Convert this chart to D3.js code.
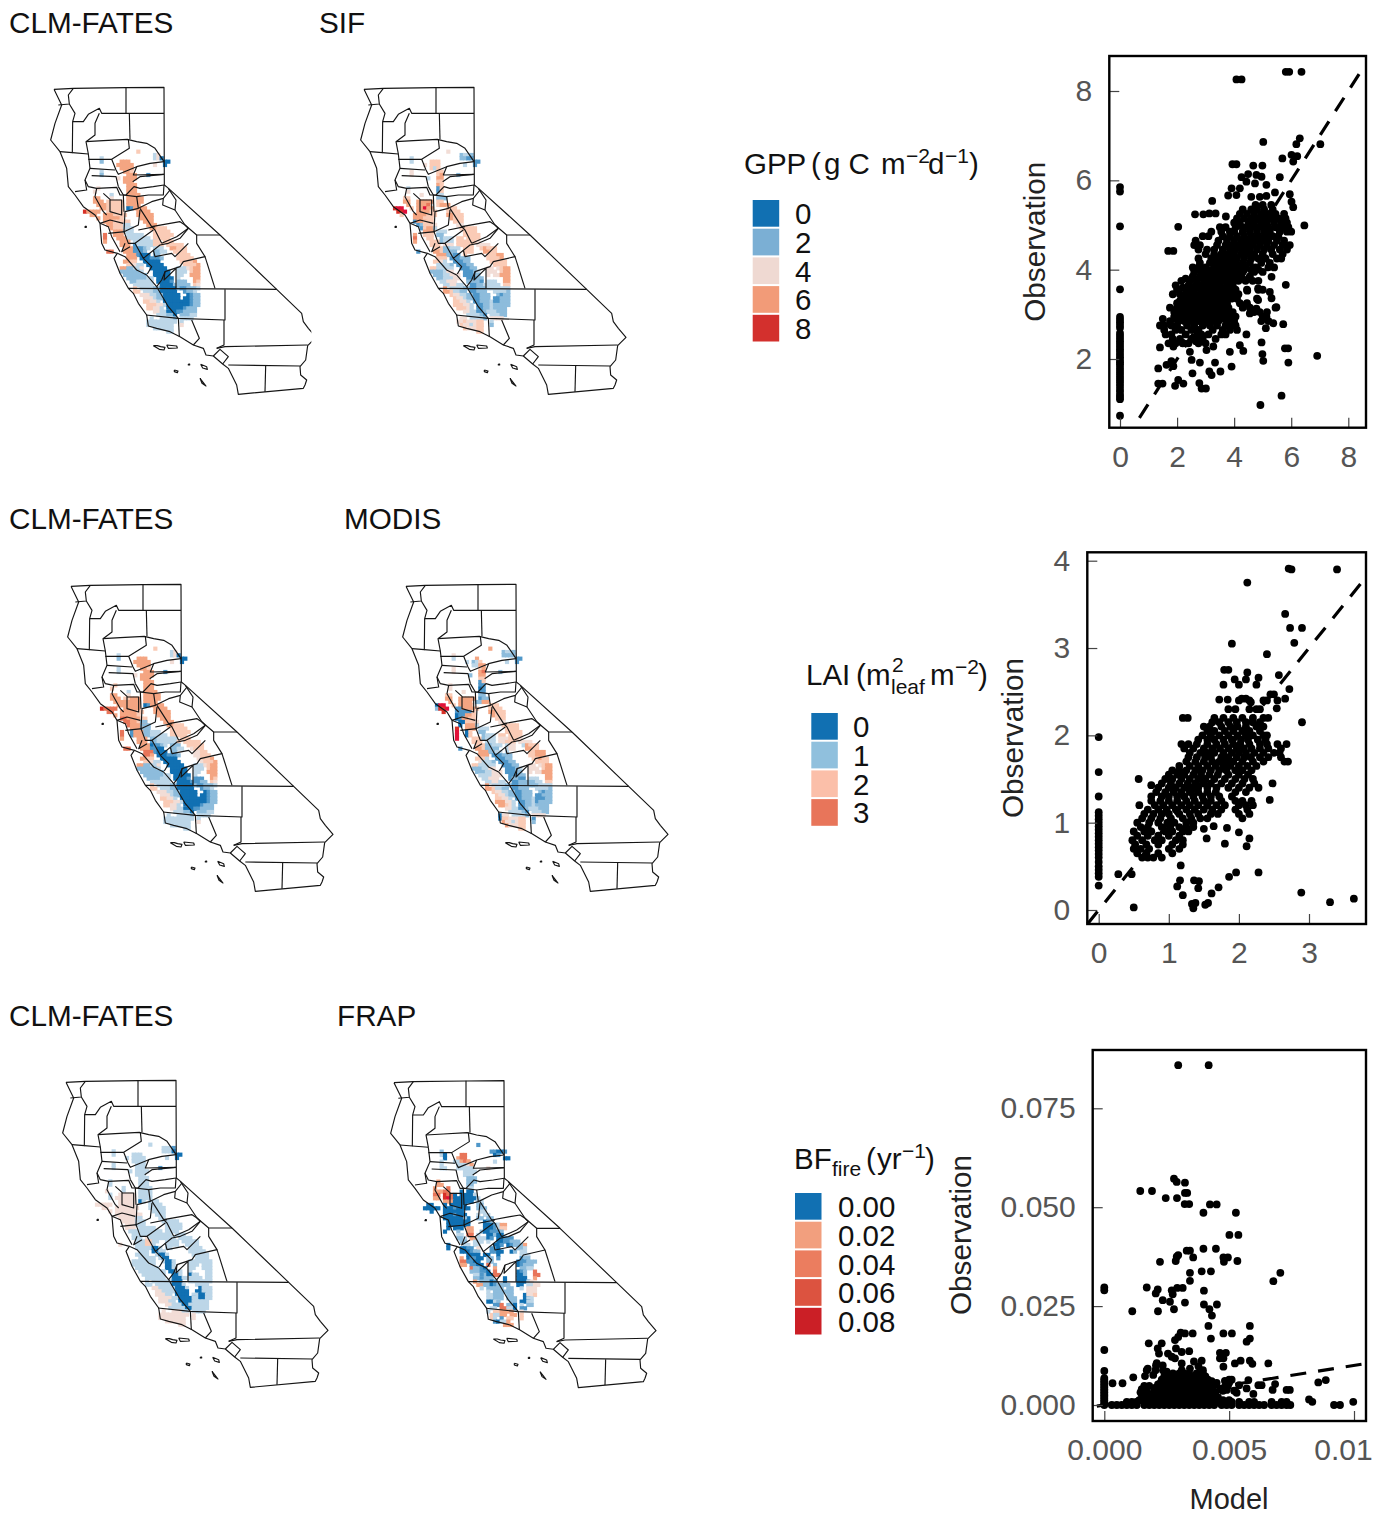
<!DOCTYPE html>
<head>
  <meta charset="utf-8">
  <script src="https://d3js.org/d3.v7.min.js"></script>
  <style>
    body { margin: 0; background: #fff; }
    * { font-family: "Liberation Sans", Arial, sans-serif; }
  </style>
</head>
<body>
  <div id="chart"></div>
  <script>
    // ---- legends
    var gppLabels = ["0", "2", "4", "6", "8"];
    var gppColors = ["#1170b2", "#7bafd4", "#efd9d2", "#f29b78", "#d3302d"];
    var laiLabels = ["0", "1", "2", "3"];
    var laiColors = ["#1170b2", "#90c0dd", "#fbbfa9", "#e8755a"];
    var bfLabels = ["0.00", "0.02", "0.04", "0.06", "0.08"];
    var bfColors = ["#1170b2", "#f29f7e", "#eb7d5f", "#dc5340", "#cb1f26"];

    // ---- map outlines, in map units (870 wide, 960 tall)
    var stateOutline = [[42,28],[100,25],[258,23],[372,22],[373,315],[382,322],[540,465],[710,628],[785,700],[790,725],[805,745],[828,772],[812,788],[803,797],[797,840],[780,860],[782,885],[800,900],[795,915],[790,925],[595,943],[590,915],[565,865],[548,852],[520,828],[498,825],[490,805],[460,795],[420,770],[390,755],[350,745],[325,738],[320,705],[295,670],[280,640],[265,625],[240,580],[222,535],[232,520],[195,510],[185,490],[180,430],[165,405],[130,380],[105,345],[85,320],[80,265],[60,215],[32,180],[45,130],[65,75],[42,28]];
    var countyLines = [
      [[100,25],[85,45],[88,72],[55,75]],
      [[88,72],[105,100],[98,125],[130,125],[145,103],[178,85],[185,100],[372,100]],
      [[258,22],[258,100]],
      [[268,100],[270,178]],
      [[98,125],[97,218],[60,215]],
      [[178,100],[165,130],[165,165],[138,185],[145,222]],
      [[138,185],[190,182],[262,178],[290,185],[320,190],[345,205],[362,230],[372,245]],
      [[97,218],[145,222]],
      [[265,178],[268,205],[215,238],[145,238]],
      [[145,222],[150,265],[135,300],[140,330],[105,335]],
      [[215,238],[228,270],[235,283],[290,260],[330,250],[372,245]],
      [[290,260],[280,285],[372,283]],
      [[278,305],[300,290],[372,283]],
      [[150,265],[225,270]],
      [[155,287],[228,290],[235,320]],
      [[135,300],[145,320],[170,325],[230,322],[240,345],[258,345],[282,320],[300,325],[340,320],[372,315]],
      [[170,325],[165,350],[190,395],[200,405]],
      [[190,340],[210,358],[210,395],[245,405],[245,360],[210,360]],
      [[235,320],[250,345],[252,395]],
      [[250,345],[290,350],[295,385],[255,395],[252,455],[295,435],[300,390]],
      [[290,350],[325,345],[370,345],[372,315]],
      [[295,385],[335,365],[370,355],[390,330]],
      [[370,355],[368,375],[405,390],[408,360],[385,325]],
      [[300,385],[335,440],[345,450],[365,490]],
      [[335,440],[390,430],[420,425],[435,435]],
      [[405,390],[435,435],[470,465],[540,465]],
      [[470,465],[470,490],[495,530],[430,545],[420,560],[375,575],[365,600],[350,620]],
      [[495,530],[525,625]],
      [[365,490],[410,470],[445,445],[435,435]],
      [[295,450],[345,440]],
      [[252,455],[265,490],[285,490],[340,450]],
      [[285,490],[310,535],[360,495],[385,490],[420,475],[445,445]],
      [[340,510],[345,530],[395,520],[405,530],[445,490]],
      [[232,520],[255,530],[290,570],[320,585],[350,620],[385,680],[415,715]],
      [[255,490],[245,515],[270,500]],
      [[180,430],[205,440],[215,470],[240,515]],
      [[205,460],[255,455]],
      [[180,430],[210,420],[250,430]],
      [[310,535],[335,560],[322,582]],
      [[375,575],[372,600],[408,565],[408,625]],
      [[265,625],[710,628]],
      [[555,628],[555,720],[415,715],[318,705]],
      [[552,720],[552,795],[530,805]],
      [[455,720],[478,775],[460,795]],
      [[415,715],[418,770]],
      [[530,805],[555,800],[803,795]],
      [[520,828],[540,808],[565,830],[548,852]],
      [[565,855],[780,858]],
      [[677,858],[675,935]]
    ];
    var islands = [
      [[340,797],[352,797],[362,800],[375,802],[372,810],[358,808],[340,797]],
      [[380,795],[410,798],[412,804],[385,805],[380,795]],
      [[403,870],[414,873],[412,878],[403,875],[403,870]],
      [[482,853],[500,860],[502,868],[488,864],[482,853]],
      [[480,895],[490,908],[498,918],[486,910],[480,895]],
      [[445,852],[449,852],[449,855],[445,855],[445,852]],
      [[135,439],[139,439],[139,442],[135,442],[135,439]]
    ];

    // ---- map cells: "y x:classes x:classes" on a 10 unit grid
    var cellClasses = ["0","1","2","3","4","5","6","7","8","9"];
    var cellColors = ["#1170b2","#4f97c9","#8dbcdc","#bcd6e8","#f2ddd6","#facbb6","#f4a582","#e8755a","#d73027","#e0103a"];

    var gppClmCells = [
      "215 295:5","225 345:34","235 185:3 345:340","245 185:2 245:666 375:00","255 235:66666 345:4 375:0",
      "265 245:6666","275 185:3 255:665","285 185:2 265:666 325:1","295 235:4 255:6666","305 255:666","315 265:666",
      "325 175:4 265:666","335 165:4 265:666","345 215:3 265:6666","355 165:66 215:4 265:66666","365 165:666 205:55555 265:66666",
      "375 175:66 195:655555 265:6666 295:6","385 185:66 205:55555 265:016 295:666","395 135:8 145:6666 205:55555 295:6666",
      "405 155:66 195:6665555 295:66666","415 175:6 195:666665 305:6666","425 195:66655555 315:666","435 205:6655555 255:33 325:666",
      "445 215:655555 255:333 335:66 355:555","455 225:6666 255:333 345:55555","465 195:7 225:666 265:33333 345:555555",
      "475 195:7 235:666 265:3333333 345:55555","485 195:6 245:666 285:3333333 345:55 375:555",
      "495 245:666 285:13333 325:333 345:555 385:55555","505 255:666 285:11123 345:333 395:66555",
      "515 205:77 255:666 285:1112 345:2233 405:5555","525 265:6666 295:1000 345:22 415:5555",
      "535 265:666 305:0001 345:112 415:55555","545 255:6655 315:00000 425:55556","555 265:55433 325:00000 435:55556",
      "565 245:66 265:22334 335:00000 415:333 445:4566","575 245:2222223 345:00000 415:333 455:566","585 255:2222222 345:00000 415:33 455:666",
      "595 265:22222233 355:00000 415:3 465:66","605 275:2233333 355:00001 415:222 465:65","615 285:333333 365:00000 405:22222 465:54",
      "625 285:5 305:333322 365:00000 415:2112223","635 285:55 315:33322 365:00000 435:1223","645 305:4 315:443322 375:00000 445:0122",
      "655 315:444322 375:00000 435:00122","665 315:55443 375:00000 425:000122","675 325:555443 385:00000 425:000122",
      "685 325:55443 385:0000 425:01222","695 345:44332 385:0000 415:112222","705 355:333222 405:0 425:22233","715 335:3 365:33332 425:3333",
      "725 325:333 345:3333333 425:3","735 325:3 335:3333 375:333 425:4","745 345:3333 375:333","755 385:33"
    ];
    var sifCells = [
      "215 295:4","225 335:2332","235 185:3 335:2211","245 185:3 245:555 375:11","255 225:4 245:555 345:3 375:1",
      "265 245:535","275 185:4 265:55","285 185:4 265:56 325:2","295 235:3 265:66","305 265:55","315 265:65",
      "325 175:3 265:15","335 175:4 265:15","345 215:4 265:33","355 165:55 265:222","365 165:66 205:66666 265:55",
      "375 175:6 205:6666 225:67 265:5666","385 135:8 145:99 185:5 205:66 225:966 295:555","395 145:889 205:666655 295:5555",
      "405 155:5 195:6666555 295:66555","415 195:666555 305:6555","425 195:1666 225:555 315:555","435 205:12 225:5555 255:4 325:44",
      "445 215:15 235:666 255:3 335:55 355:555","455 225:666 265:333 345:5555 375:5","465 195:6 225:555 265:22 345:5555 375:55",
      "475 195:7 235:55 275:2333 325:55 355:5555","485 195:6 245:555 275:2 285:333 325:555 355:555 385:4","495 245:555 285:444 325:55 345:555 385:4444",
      "505 255:555 285:22333 345:555 395:56555","515 205:1 255:665 285:2222 345:555 405:6655","525 265:6666 295:2211 345:5 415:55566",
      "535 265:555 305:1112 345:22 415:55556","545 255:5543 315:11122 425:55555","555 265:33332 325:11122 435:5555",
      "565 245:55 265:33333 335:11122 415:44 445:4566","575 245:2222344 345:11123 415:444 455:566","585 255:22233444 345:11122 415:4 435:44 455:666",
      "595 265:2233344 355:11122 465:66","605 275:33444 305:44 355:22221 415:333 465:66","615 285:334433 365:11222 405:33333 465:55",
      "625 285:6 305:333322 365:11222 415:3333333","635 285:66 305:5333 325:322 365:11222 435:33332","645 305:5 315:443322 375:11222 445:2122",
      "655 315:544322 375:11222 435:11222","665 315:55443 375:11222 425:311222","675 315:555443 385:11222 425:322222",
      "685 325:55543 385:1122 425:32222","695 345:44332 385:1122 415:333222","705 355:333322 405:1 425:33322","715 335:44 365:33332 425:4444",
      "725 325:444 345:544455 425:3","735 335:5443 365:3444 385:55 425:2","745 345:5445 375:455","755 385:55"
    ];
    var laiClmCells = [
      "215 295:5","225 345:34","235 185:3 345:340","245 185:2 245:666 375:00","255 235:66666 345:4 375:0",
      "265 245:6666","275 185:3 255:665","285 185:3 265:666 325:1","295 235:4 255:6666","305 255:666","315 265:666",
      "325 175:5 265:666","335 165:5 265:666","345 215:3 265:6666","355 165:66 215:4 265:66666","365 165:666 205:55666 265:66666",
      "375 175:66 195:666666 265:6666 295:6","385 185:66 205:66666 265:016 295:666","395 135:8 145:7777 205:66666 295:6666",
      "405 155:77 195:6666655 295:66666","415 175:6 195:666665 305:6666","425 195:77666655 315:666","435 205:7766555 255:22 325:666",
      "445 215:766666 255:222 335:66 355:555","455 225:6666 255:222 345:55555","465 195:7 225:1666 265:22333 345:555555",
      "475 195:7 225:1666 265:2233333 345:55555","485 195:6 245:666 285:2233333 345:33 375:555",
      "495 245:666 285:12333 325:333 345:335 385:55555","505 255:666 285:01123 345:222 395:55555",
      "515 205:77 255:666 285:1100 345:2233 405:4555","525 265:7776 295:1000 345:22 415:4455",
      "535 265:776 305:0001 345:112 415:44555","545 255:6655 315:00000 425:45556","555 265:55433 325:00000 435:45556",
      "565 245:66 265:22334 335:00000 415:333 445:4566","575 245:2222223 345:00000 415:333 455:566","585 255:2222222 345:00000 415:33 455:666",
      "595 265:22222233 355:00000 415:3 465:66","605 275:2222333 355:00001 415:111 465:65","615 285:333333 365:00000 405:11122 465:54",
      "625 285:5 305:333322 365:00000 415:2112223","635 285:55 315:33322 365:00000 435:1223","645 305:4 315:443322 375:00000 445:0122",
      "655 315:444322 375:00000 435:00122","665 315:55443 375:00000 425:000122","675 325:555443 385:00000 425:000122",
      "685 325:55443 385:0000 425:01222","695 345:44332 385:0000 415:112222","705 355:333222 405:0 425:22233","715 335:3 365:33332 425:3333",
      "725 325:333 345:3333333 425:3","735 325:3 335:3333 375:333 425:4","745 345:3333 375:333","755 385:33"
    ];
    var modisCells = [
      "215 295:6","225 335:2332","235 185:4 335:2222","245 185:3 255:6 375:11","255 225:3 245:235 345:3 375:1",
      "265 245:33 265:66","275 185:4 265:56","285 185:4 265:67 325:2","295 235:2 265:66","305 265:55","315 265:15",
      "325 175:4 265:11","335 175:4 265:01","345 215:4 265:11","355 165:55 265:22","365 165:66 205:66666 265:122",
      "375 175:6 205:6666 255:2266","385 135:0 145:99 185:5 205:6666 225:66 295:555","395 135:2 145:889 195:1166665 295:5555",
      "405 155:8 195:11111 245:5 295:66555","415 195:01 215:1665 305:6555","425 195:0166 225:655 315:555","435 205:00 225:5555 255:4 325:44",
      "445 205:0 225:6666 255:3 335:55 355:555","455 195:8 225:666 265:333 345:5555 375:5","465 195:9 225:05 265:22 345:5555 375:55",
      "475 195:9 225:05 275:2333 325:55 355:5555","485 195:9 245:555 275:2 285:333 325:444 355:555 385:4","495 245:555 285:333 325:44 345:555 385:4444",
      "505 255:555 285:22333 345:344 395:36555","515 205:1 255:665 285:2222 345:344 405:6655","525 265:6666 295:2233 345:3 415:55666",
      "535 265:666 305:1112 345:22 415:55666","545 255:5553 315:11122 425:55655","555 265:43332 325:11122 435:5555",
      "565 245:55 265:33333 335:11122 415:44 445:4566","575 245:2223344 345:11123 415:444 455:566","585 255:22233444 345:11122 415:4 435:44 455:666",
      "595 265:3333444 355:11122 465:66","605 275:33444 305:44 355:12211 415:333 465:66","615 285:334433 365:11222 405:22233 465:55",
      "625 285:6 305:333322 365:11222 415:2223333","635 285:66 305:5333 325:322 365:11222 435:33332","645 305:5 315:443322 375:11222 445:2122",
      "655 315:544322 375:11222 435:11222","665 315:55443 375:11222 425:311122","675 315:666443 385:11222 425:312222",
      "685 325:66543 385:1122 425:32222","695 345:44332 385:1122 415:333222","705 355:333322 405:1 425:33322","715 325:0 335:44 365:33332 425:4444",
      "725 325:0 335:5 345:544455 425:1","735 335:6443 365:3444 385:55 425:2","745 345:6445 375:455","755 385:55"
    ];
    var bfClmCells = [
      "215 295:3","225 335:3331","235 185:3 335:3330","245 185:3 245:333 375:00","255 225:3 245:3333 345:3 375:0",
      "265 245:3333","275 185:3 255:333","285 185:3 255:333 325:1","295 235:3 255:3333","305 255:333","315 265:333",
      "325 175:3 265:333","335 175:3 265:333","345 215:3 265:3333","355 165:4 215:3 265:3333","365 175:3 205:44444 265:3333",
      "375 175:3 195:444444 265:333 295:3","385 205:44444 265:03 295:333","395 135:4 145:4444 205:44444 295:3333",
      "405 155:44 195:4444444 295:33333","415 175:4 195:444444 305:3333","425 195:44444444 315:333","435 205:4444444 255:33 325:33",
      "445 215:444444 255:333 335:33 355:333","455 225:4444 255:333 345:33333","465 225:444 265:33333 345:33333",
      "475 235:333 265:3333333 345:3333","485 245:333 275:3333333 345:33 375:333","495 245:333 285:43333 325:333 345:333 385:3333",
      "505 255:333 285:5533 345:333 365:33 395:33333","515 205:4 255:333 285:553 345:3333 405:3333","525 255:33333 295:3003 345:33 415:3333",
      "535 265:333 305:0033 415:33333","545 255:3333 315:3003 425:33333","555 265:33333 325:300 435:3333",
      "565 245:33 265:33333 335:3003 415:333 445:3333","575 245:3333333 345:003 415:333 455:333","585 255:3333333 345:003 415:33 455:333",
      "595 265:33333333 355:0033 415:3 465:33","605 275:3333333 365:003 415:033 465:33","615 285:333333 365:0003 405:33333 465:33",
      "625 285:3 305:333333 365:000 415:3333333","635 285:33 315:33333 365:0003 435:3333","645 305:4 315:433333 375:0003 445:0333",
      "655 315:443333 375:0000 435:00333","665 315:44433 375:0000 425:330033","675 325:444433 385:00000 425:330033",
      "685 325:44433 385:0000 425:33333","695 345:44333 395:000 415:333333","705 355:333333 405:00 425:33333","715 335:4 365:44433 425:3333",
      "725 325:444 345:4444444 425:4","735 325:4 335:4444 375:444 425:4","745 345:4444 375:444","755 385:44"
    ];
    var frapCells = [
      "215 295:1","235 185:2 335:11001","245 185:3 195:0 245:77 345:01","255 195:0 235:677 375:00","265 185:3 225:33 245:677 265:6 345:3",
      "275 185:3 235:333 265:46","285 185:3 195:3 235:33 255:333 325:4","295 255:3333","305 255:333","315 265:222","325 175:6 265:222",
      "335 175:66 265:22","345 165:6 205:7 265:33","355 165:666 195:77 245:0 265:00","365 165:77 195:877 225:0 245:00 265:000 285:3",
      "375 165:66 195:897 225:000 255:00 265:000 295:3","385 195:66 215:6 225:0000 265:00 295:33","395 145:00 195:0 215:00000 295:22",
      "405 135:0 145:0000 195:00010000 295:222","415 155:0 195:0 205:00000 245:0 305:33","425 195:0001000 245:0 295:3 315:33",
      "435 195:00000000 255:2 295:22 325:22","445 205:0000000 315:011 335:2","455 205:0000000 315:00010 355:3 365:66",
      "465 205:0 225:0 235:00 265:66 315:0001 355:3 365:55","475 195:0 235:2 265:66 305:2 315:0011 355:1 365:2","485 235:33 265:77 295:3 325:0022 355:00",
      "495 235:223 275:66 295:3330 335:1 355:00 375:111","505 245:22 285:333 325:3 355:0011 395:222","515 205:0 255:33 285:33 345:001 385:01 405:2226",
      "525 205:0 245:0011 295:4 335:11 355:0 415:223","535 245:00011 285:22 335:11 355:00 395:02 425:33","545 265:001 285:00 315:00 355:0 425:333",
      "555 245:6 265:0110 295:00 325:22 355:1 425:1 435:22","565 245:77 265:1100 295:0 325:22 415:00 425:11 445:222","575 245:66 275:110 295:00 325:7 345:2 415:01 435:222",
      "585 275:72 285:22 305:1 315:0 345:6 425:22 445:33","595 275:222 305:11 325:0 345:7 415:01 435:2 465:7","605 285:3332 305:1 325:00 345:77 415:00 435:2 465:77",
      "615 285:2222 305:1 325:22 375:0 415:000 435:0 465:6","625 285:6 305:222 335:01 375:0 415:0000 445:34","635 295:66 315:222 335:01 355:22 375:22 415:00 445:3344",
      "645 305:3 325:22 345:22 365:2 385:22 425:3 445:444","655 325:3 345:222 365:22 385:22 445:44 465:4","665 325:33 345:222 385:22 435:0 445:44 465:5",
      "675 325:33 345:2 355:22 385:222 435:00 445:33","685 325:00 345:33 355:2 395:22 425:0 435:00 445:33","695 345:11 365:7 385:22 405:0 425:3 445:22",
      "705 335:33 365:777 385:33 405:0 425:11","715 325:3 345:55 365:66 385:66 425:4","725 335:5 345:33 365:66 395:66 425:5",
      "735 335:55 345:3 365:1 385:55 425:5","745 345:1 355:0 365:33 385:6","755 375:66 395:6"
    ];

    // ---- scatter values
    var gppTicks = [0, 2, 4, 6, 8];
    var gppYTicks = [2, 4, 6, 8];
    var gppLine = [0.68, 8.4];
    var gppZero = [0.73,1.1,1.15,1.2,1.27,1.33,1.4,1.46,1.52,1.58,1.64,1.7,1.76,1.82,1.88,1.93,1.98,2.04,2.1,2.16,2.22,2.28,2.34,2.4,2.46,2.52,2.58,2.7,2.76,2.82,2.88,2.94,3.56,4.97,5.75,5.85];
    var gppPoints = [[4.08,8.26],[4.26,8.26],[5.81,8.43],[5.93,8.43],[6.36,8.43],[5.02,6.86],[7.02,6.81],[6.3,6.94],[6.18,6.81],[5.69,6.49],[6.01,6.57],[6.21,6.54],[6.07,6.42],[3.94,6.36],[4.08,6.36],[4.67,6.33],[4.99,6.33],[5.6,6.07],[4.26,6.07],[4.49,6.14],[4.78,6.12],[4.96,6.08],[4.43,5.97],[4.73,5.93],[5.13,5.9],[3.91,5.82],[4.2,5.82],[3.79,5.66],[4.08,5.67],[4.6,5.63],[4.9,5.63],[5.13,5.65],[5.43,5.73],[5.95,5.69],[6.01,5.52],[6.07,5.4],[3.23,5.54],[2.63,5.24],[2.92,5.24],[3.13,5.26],[3.35,5.26],[3.71,5.19],[2.04,4.96],[6.46,4.99],[1.69,4.42],[1.87,4.42],[5.81,3.66],[5.31,3.84],[5.31,3.36],[5.25,3.5],[4.84,3.58],[4.46,3.53],[4.84,3.32],[4.78,3.13],[4.55,3.02],[4.3,3.2],[4.43,2.55],[5.11,2.69],[5.72,2.78],[5.37,2.8],[5.13,2.95],[5.48,3.16],[1.34,1.79],[1.63,1.87],[1.8,1.95],[1.87,1.84],[1.34,1.45],[1.49,1.45],[1.93,1.4],[2.04,1.53],[2.22,1.45],[2.54,1.68],[2.78,1.46],[2.86,1.34],[3.01,1.34],[3.13,1.72],[3.21,1.64],[3.52,1.72],[3.33,1.92],[3.91,1.83],[2.51,1.98],[2.8,1.92],[2.45,2.16],[3.03,2.2],[3.27,2.28],[3.85,2.16],[4.2,2.31],[4.32,2.18],[4.96,2.37],[4.99,2.11],[5.02,1.96],[5.78,2.24],[5.89,2.24],[5.9,1.92],[6.91,2.07],[4.92,0.97],[5.66,1.18],[1.4,2.26],[1.87,2.28],[2.2,2.36],[2.66,2.4]];
    var gppRows = [
      [2.35,[1.7,1.95,2.2,2.4,2.75,3.0]],[2.45,[1.85,2.1,2.5,2.65,2.9,3.35]],[2.55,[1.6,1.8,2.3,2.7,2.85,3.1,3.55,3.7]],
      [2.65,[1.55,1.95,2.15,2.5,2.75,3.25,3.6,3.85,4.1]],[2.75,[1.4,1.55,1.8,2.0,2.35,2.6,2.9,3.15,3.4,3.7,3.95,4.05]],
      [2.85,[1.75,2.05,2.25,2.5,2.75,3.0,3.25,3.45,3.75,4.0,4.95,5.2]],[2.95,[1.9,2.2,2.4,2.65,2.9,3.1,3.35,3.6,3.85,4.05,5.0]],
      [3.05,[1.9,2.1,2.3,2.55,2.8,3.0,3.2,3.5,3.7,3.95,4.7,4.9,5.15]],[3.15,[1.75,2.0,2.2,2.45,2.65,2.9,3.15,3.4,3.6,3.8,4.3,4.55,5.45]],
      [3.25,[2.0,2.3,2.5,2.75,3.0,3.25,3.5,3.75,4.2,4.45]],[3.35,[2.2,2.4,2.65,2.85,3.1,3.3,3.6,3.9,4.1,4.8]],
      [3.45,[1.85,2.1,2.3,2.55,2.8,3.0,3.25,3.45,3.7,3.95,4.15]],[3.55,[2.0,2.35,2.6,2.9,3.1,3.35,3.55,3.8,4.05,4.45,4.85,5.0]],
      [3.65,[1.95,2.4,2.65,2.85,3.05,3.3,3.5,3.75,3.95]],[3.75,[2.15,2.45,2.7,3.0,3.2,3.45,3.65,3.9,4.15,4.4,4.65,4.85]],
      [3.85,[2.55,2.8,3.05,3.3,3.5,3.75,4.0,4.25,4.55]],[3.95,[2.6,2.9,3.15,3.4,3.6,3.85,4.1,4.3,4.7,5.0]],
      [4.05,[2.55,2.75,3.0,3.3,3.5,3.7,3.95,4.2,4.4,4.75,5.2,5.4]],[4.15,[2.8,3.15,3.35,3.6,3.8,4.05,4.3,4.55,4.95,5.25]],
      [4.25,[2.75,3.2,3.45,3.7,3.9,4.1,4.35,4.6,4.85,5.1,5.5,5.65]],[4.35,[3.0,3.3,3.55,3.8,4.0,4.25,4.5,4.7,5.0,5.35,5.7]],
      [4.45,[2.75,3.05,3.3,3.6,3.85,4.05,4.3,4.55,4.8,5.05,5.3,5.6,5.85]],[4.55,[2.6,2.8,3.4,3.7,3.95,4.15,4.4,4.65,4.9,5.15,5.4,5.7,5.95]],
      [4.65,[2.65,3.45,3.75,4.0,4.25,4.5,4.75,5.0,5.2,5.5,5.75]],[4.75,[2.9,3.1,3.6,3.85,4.1,4.35,4.6,4.85,5.1,5.35,5.55]],
      [4.85,[3.2,3.55,3.85,4.0,4.3,4.55,4.8,5.05,5.25,5.6,5.85,6.0]],[4.95,[3.5,3.7,4.05,4.3,4.5,4.75,5.0,5.2,5.45,5.7,5.9]],
      [5.05,[4.0,4.2,4.5,4.7,4.95,5.15,5.4,5.65,5.85]],[5.15,[4.1,4.35,4.6,4.85,5.05,5.3,5.55,5.8]],
      [5.25,[4.2,4.45,4.7,4.95,5.2,5.45,5.75]],[5.35,[4.3,4.6,4.8,5.05,5.35]],[5.45,[4.75,5.0,5.3]],
      [2.9,[1.5,1.95,2.3,2.55,2.8,3.05,3.3,3.55,3.8]],[3.0,[2.0,2.25,2.5,2.75,2.95,3.15,3.4,3.65,3.9]],[3.1,[1.95,2.15,2.4,2.6,2.85,3.05,3.3,3.55,3.75]],
      [3.2,[2.1,2.35,2.6,2.8,3.05,3.3,3.55]],[3.3,[2.1,2.55,2.95,3.15,3.4,3.7]],[3.4,[2.2,2.5,2.75,2.95,3.2,3.5,3.8,4.05]],
      [3.6,[2.2,2.5,2.75,3.0,3.2,3.45,3.7]],[3.8,[2.3,2.6,2.9,3.15,3.4,3.6,3.85,4.1,4.5]],[4.0,[2.7,3.05,3.25,3.55,3.8,4.05,4.35,4.6,4.85]]
    ];

    var laiTicks = [0, 1, 2, 3];
    var laiYTicks = [0, 1, 2, 3, 4];
    var laiLine = [-0.16, 3.78];
    var laiZero = [0.28,0.38,0.42,0.46,0.5,0.55,0.6,0.64,0.68,0.72,0.76,0.8,0.84,0.88,0.92,0.96,1.0,1.04,1.08,1.12,1.3,1.58,1.98];
    var laiPoints = [[2.71,3.91],[2.75,3.9],[3.4,3.9],[2.12,3.75],[2.66,3.39],[2.73,3.23],[2.9,3.23],[2.79,3.06],[1.9,3.05],[2.4,2.93],[2.57,2.69],[2.72,2.53],[2.66,2.42],[2.9,2.15],[2.54,2.31],[1.79,2.75],[1.85,2.75],[2.12,2.72],[2.1,2.64],[2.28,2.66],[1.94,2.64],[2.0,2.58],[2.25,2.58],[1.78,2.58],[1.72,2.41],[1.84,2.41],[2.04,2.42],[2.1,2.42],[2.17,2.38],[0.28,0.41],[0.47,0.41],[0.5,0.03],[1.17,0.51],[1.16,0.34],[1.12,0.27],[1.2,0.17],[1.36,0.34],[1.43,0.33],[1.42,0.25],[1.33,0.07],[1.38,0.08],[1.35,0.02],[1.52,0.06],[1.56,0.08],[1.61,0.19],[1.71,0.26],[1.86,0.38],[1.96,0.43],[2.28,0.43],[2.89,0.2],[3.3,0.09],[3.64,0.13],[0.57,1.5],[0.75,1.43],[1.5,0.93],[1.54,0.82],[1.64,0.96],[1.8,0.76],[1.83,0.94],[2.0,0.89],[2.11,0.73],[2.15,0.82],[2.44,1.26],[2.48,1.45]];
    var laiRows = [
      [0.6,[0.62,0.7,0.78,0.9]],[0.7,[0.5,0.6,0.72,1.0,1.15]],[0.8,[0.48,0.62,0.8,0.9,1.1,1.2]],
      [0.9,[0.5,0.65,0.75,0.95,1.05,1.2,1.28]],[1.0,[0.55,0.72,0.85,0.98,1.08,1.25,1.35]],
      [1.1,[0.65,0.78,0.9,1.0,1.15,1.3,1.42,1.6,1.7,2.0,2.15]],[1.2,[0.58,0.8,0.92,1.05,1.18,1.3,1.42,1.55,1.68,1.8,2.0,2.1,2.2]],
      [1.3,[0.75,0.9,1.0,1.12,1.22,1.35,1.48,1.6,1.72,1.9]],[1.4,[0.85,1.0,1.1,1.22,1.32,1.42,1.55,1.68,1.85,2.0,2.15,2.28]],
      [1.5,[0.95,1.05,1.18,1.3,1.42,1.52,1.65,1.8,1.95,2.08,2.2]],[1.6,[1.05,1.15,1.25,1.38,1.48,1.6,1.72,1.82,1.95,2.05,2.18]],
      [1.7,[1.25,1.38,1.5,1.62,1.72,1.82,1.92,2.05,2.2,2.35,2.65,2.7]],[1.8,[1.3,1.45,1.55,1.65,1.78,1.9,2.0,2.1,2.22,2.35,2.5,2.58]],
      [1.9,[1.18,1.28,1.4,1.55,1.68,1.8,1.92,2.02,2.15,2.3,2.4,2.55,2.68]],[2.0,[1.48,1.6,1.72,1.85,1.98,2.1,2.2,2.35,2.4]],
      [2.1,[1.5,1.58,1.75,1.88,1.98,2.1,2.25,2.35]],[2.2,[1.2,1.27,1.65,1.78,1.92,2.05,2.2,2.35,2.42]],
      [2.3,[1.85,1.95,2.15,2.25,2.3]],[2.4,[2.0,2.15,2.35,2.4,2.55]],[2.47,[2.45,2.5]],
      [0.65,[0.55,0.68,0.85,1.05]],[0.75,[0.52,0.68,0.85,1.05,1.2]],[0.85,[0.55,0.7,0.85,1.0,1.15]],[0.95,[0.6,0.7,0.9,1.02,1.15,1.25,1.35]],
      [1.05,[0.62,0.75,0.88,1.03,1.2,1.32,1.45,1.55,2.05]],[1.15,[0.7,0.85,0.97,1.1,1.25,1.37,1.5,1.62,1.75,1.95,2.12]],
      [1.25,[0.75,0.88,1.0,1.12,1.25,1.37,1.5,1.6,1.75,1.95,2.05,2.18]],[1.35,[0.82,0.95,1.07,1.18,1.3,1.42,1.55,1.67,1.95,2.1]],
      [1.45,[0.9,1.03,1.15,1.27,1.38,1.5,1.6,1.75,1.9,2.05,2.22]],[1.55,[1.0,1.12,1.22,1.35,1.46,1.58,1.7,1.85,2.0,2.13]],
      [1.65,[1.15,1.3,1.42,1.55,1.67,1.78,1.88,2.0,2.12,2.25]],[1.75,[1.28,1.4,1.52,1.6,1.75,1.85,1.97,2.08,2.17,2.3,2.42,2.6]],
      [1.85,[1.22,1.35,1.5,1.62,1.73,1.85,1.97,2.07,2.18,2.3,2.42,2.6]],[1.95,[1.42,1.55,1.65,1.78,1.9,2.03,2.13,2.27,2.38]],
      [2.05,[1.55,1.65,1.8,1.92,2.05,2.15,2.3]],[2.15,[1.62,1.72,1.85,1.97,2.1,2.2,2.3]]
    ];

    // burned fraction scatter values are in units of 0.001
    var bfXTicks = [0, 5, 10];
    var bfXLabels = ["0.000", "0.005", "0.01"];
    var bfYTicks = [0, 25, 50, 75];
    var bfYLabels = ["0.000", "0.025", "0.050", "0.075"];
    var bfLine = [-0.3, 10.3];
    var bfZero = [0,0.4,0.8,1.2,1.6,2,2.4,2.8,3.2,3.6,4,4.4,4.8,5.2,5.6,6,6.4,6.8,8.6,13.9,29,29.7];
    var bfPoints = [[2.96,85.9],[4.18,85.9],[2.79,57.2],[2.9,56.4],[3.23,56.2],[1.44,54.1],[1.91,54.1],[3.23,53.6],[3.32,53.6],[2.46,52.3],[2.91,52.3],[3.22,50.8],[3.4,50.8],[4.23,50.7],[4.5,50.7],[3.97,48.6],[5.27,48.6],[5.01,43],[5.37,43],[3.97,39.5],[4.47,39.5],[3.3,39],[3.43,39],[2.96,37.9],[2.9,37.5],[3.56,37.3],[4.77,37.3],[4.95,37.3],[4.79,36.2],[5.33,36.4],[2.23,36.2],[2.86,36.4],[3.43,33.4],[3.9,33.8],[4.27,33.8],[7.05,33.4],[6.77,31.3],[3.43,31.4],[1.7,29.7],[2.14,29.2],[2.06,28.2],[2.7,29],[2.92,29.6],[3.14,29.6],[3.99,28.9],[2.74,28],[2.34,26.5],[2.63,26.1],[3.23,25.9],[3.99,25.4],[4.51,25.4],[4.21,24.2],[2.79,24.2],[2.15,23.7],[1.12,23.7],[4.31,22.6],[4.17,20],[5.83,20],[4.77,18.1],[5.11,18.1],[3.06,18.3],[3.23,18.1],[3.54,18.1],[2.96,17.2],[2.83,16.4],[4.27,16.8],[5.83,16.8],[5.7,16],[1.78,15.6],[2.3,15.6],[2.14,14.3],[2.87,14.3],[3.1,13.4],[3.4,13.6],[2.19,13],[2.55,13],[2.7,12.2],[4.63,13.2],[4.87,13.2],[4.63,11.8],[4.77,11.8],[5.46,11.2],[5.23,10.5],[5.83,11.2],[5.93,10.4],[6.57,10.5],[3.9,11.2],[3.59,11],[2.83,11.8],[3.1,10.5],[3.43,9.2],[3.77,9.8],[2.1,10.6],[2.34,10],[2.07,10],[1.74,9.2],[4.77,9.7],[1.16,7],[1.63,7.3],[1.96,7.6],[2.5,8.4],[0.33,5.5],[0.73,5.5],[5.03,6.3],[4.83,6.1],[6.84,5.3],[6.17,5],[6.3,5],[5.77,6.3],[5.7,4.2],[5.4,5],[8.57,5.7],[8.87,6.3],[6.74,3.8],[7.3,3.8],[7.43,3.8],[5.97,2.8],[5.3,3.1],[4.9,3.8],[8.2,1.4],[8.33,0.8],[9.2,0],[9.44,0],[9.97,0.8]];
    var bfRows = [
      [0,[0.3,0.5,0.7,0.9,1.1,1.3,1.6,1.8,2,2.2,2.4,2.6,2.8,3,3.2,3.4,3.6,3.8,4,4.2,4.4,4.7,4.9,5.1,5.4,5.6,5.8,6,6.2,6.4,6.7,6.9,7.1,7.3,7.45]],
      [0.4,[1.7,2,2.3,2.6,2.9,3.2,3.5,3.8,4.1,4.4]],
      [0.8,[0.9,1.1,1.3,1.6,1.85,2.05,2.3,2.5,2.7,2.95,3.15,3.35,3.55,3.8,4,4.25,4.6,4.9,5.1,5.4,5.8,6,6.7,7.1,7.3]],
      [1.2,[1.4,1.75,2.05,2.3,2.55,2.75,3,3.25,3.45,3.7,3.9,4.15,4.4,4.75,5.0]],
      [1.6,[1.5,1.7,1.95,2.15,2.4,2.6,2.85,3.05,3.3,3.5,3.75,3.95,4.2,4.45]],
      [2,[1.7,2.0,2.25,2.5,2.7,2.95,3.2,3.4,3.65,3.85,4.1,4.35,4.55]],
      [2.4,[1.6,1.9,2.15,2.35,2.6,2.8,3.05,3.3,3.5,3.75,3.95,4.2]],
      [2.8,[1.5,1.8,2.05,2.25,2.5,2.7,2.95,3.15,3.4,3.6,3.85,4.1,4.35]],
      [3.2,[1.45,1.7,2.1,2.3,2.55,2.8,3,3.25,3.45,3.7,3.95,4.15,4.45]],
      [3.6,[1.55,2.0,2.25,2.45,2.65,2.9,3.1,3.35,3.6,3.8,4.05,4.3,4.75,5.2]],
      [4,[1.5,1.65,2.1,2.3,2.5,2.75,3,3.2,3.45,3.7,3.9,4.2,4.65]],
      [4.4,[2.05,2.25,2.5,2.7,2.95,3.15,3.4,3.6,3.85,4.1]],
      [4.8,[1.6,1.8,2.2,2.4,2.6,2.85,3.1,3.3,3.55,3.75,4,4.3,4.85,4.95]],
      [5.2,[2.15,2.4,2.6,2.85,3.05,3.3,3.5,3.75,3.95,4.2]],
      [5.6,[2.25,2.45,2.65,2.9,3.1,3.35,3.55,3.8,4,4.25,4.5,5]],
      [6,[2.35,2.55,2.8,3.05,3.25,3.5,3.7,3.95,4.3]],
      [6.4,[2.3,2.5,2.75,3,3.2,3.45,3.65,3.9,4.15,5,5.1]],
      [6.8,[2.4,2.65,2.9,3.15,3.35,3.6,3.8,4.0]],
      [7.2,[2.4,2.6,2.9,3.15,3.35,3.6,3.85,4.05]],
      [8,[2.5,2.75,3,3.2,3.4,3.7,3.95]],
      [8.8,[1.7,2.05,2.35,3.1,3.95]]
    ];

    var width = 1386, height = 1515;
    var svg = d3.select("#chart").append("svg")
      .attr("width", width).attr("height", height);

    var cellColor = d3.scaleOrdinal().domain(cellClasses).range(cellColors);

    function parseCells(rows) {
      var cells = [];
      rows.forEach(function(row) {
        var parts = row.trim().split(" ");
        var y = +parts[0];
        parts.slice(1).forEach(function(run) {
          var bits = run.split(":");
          bits[1].split("").forEach(function(c, i) {
            cells.push({x: +bits[0] + i * 10, y: y, c: c});
          });
        });
      });
      return cells;
    }

    function drawMap(ox, oy, rows, id, clipRight) {
      var x = d3.scaleLinear().domain([0, 870]).range([ox, ox + 290]);
      var y = d3.scaleLinear().domain([0, 960]).range([oy, oy + 320]);
      var line = d3.line().x(function(d) { return x(d[0]); }).y(function(d) { return y(d[1]); });
      var g = svg.append("g");
      g.append("g").style("filter", "blur(0.45px)")
        .selectAll("rect").data(parseCells(rows)).enter().append("rect")
        .attr("x", function(d) { return x(d.x - 6.25); })
        .attr("y", function(d) { return y(d.y - 6.25); })
        .attr("width", x(12.5) - x(0))
        .attr("height", y(12.5) - y(0))
        .attr("fill", function(d) { return cellColor(d.c); });
      var lines = g.append("g").attr("fill", "none").attr("stroke", "#151515")
        .attr("stroke-width", 1.15).attr("stroke-linejoin", "round");
      if (clipRight) {
        svg.append("clipPath").attr("id", id).append("rect")
          .attr("x", ox).attr("y", oy).attr("width", x(clipRight) - ox).attr("height", 320);
        lines.attr("clip-path", "url(#" + id + ")");
      }
      lines.selectAll("path").data([stateOutline].concat(countyLines, islands)).enter().append("path")
        .attr("d", line);
    }

    drawMap(40, 80, gppClmCells, "clipGpp", 814);
    drawMap(350, 80, sifCells);
    drawMap(57, 577, laiClmCells);
    drawMap(392, 577, modisCells);
    drawMap(52, 1073, bfClmCells);
    drawMap(380, 1073.3, frapCells);

    // panel titles
    var titles = [["CLM-FATES", 9, 33], ["SIF", 319, 33], ["CLM-FATES", 9, 529], ["MODIS", 344, 529], ["CLM-FATES", 9, 1026], ["FRAP", 337, 1026]];
    svg.append("g").selectAll("text").data(titles).enter().append("text")
      .attr("x", function(d) { return d[1]; })
      .attr("y", function(d) { return d[2]; })
      .attr("font-size", 29.7).attr("fill", "#111")
      .text(function(d) { return d[0]; });

    function drawLegend(labels, colors, x0, y0, labelX) {
      var y = d3.scaleBand().domain(labels).range([y0, y0 + labels.length * 28.7 - 2]).paddingInner(0.07).paddingOuter(0);
      var g = svg.append("g");
      g.selectAll("rect").data(labels).enter().append("rect")
        .attr("x", x0).attr("y", function(d) { return y(d); })
        .attr("width", 26.5).attr("height", y.bandwidth())
        .attr("fill", function(d, i) { return colors[i]; });
      g.selectAll("text").data(labels).enter().append("text")
        .attr("x", labelX).attr("y", function(d) { return y(d) + y.bandwidth() / 2; })
        .attr("dy", "0.37em").attr("font-size", 29.5).attr("fill", "#111")
        .text(function(d) { return d; });
    }
    drawLegend(gppLabels, gppColors, 752.7, 200, 795);
    drawLegend(laiLabels, laiColors, 811.3, 713, 853);
    drawLegend(bfLabels, bfColors, 795, 1193, 838);

    // legend titles, one run per piece: text, x, baseline shift, size
    function legendTitle(y, runs) {
      var t = svg.append("text").attr("y", y).attr("fill", "#111");
      runs.forEach(function(r) {
        t.append("tspan").attr("x", r[1]).attr("y", y + r[2]).attr("font-size", r[3]).text(r[0]);
      });
    }
    legendTitle(174, [["GPP", 744, 0, 29.5], ["(", 811, 0, 29.5], ["g C", 824, 0, 29.5], ["m", 881, 0, 29.5], ["\u22122", 906, -11, 21], ["d", 928, 0, 29.5], ["\u22121", 945, -11, 21], [")", 969, 0, 29.5]]);
    legendTitle(685, [["LAI", 806, 0, 29.5], ["(", 856, 0, 29.5], ["m", 866, 0, 29.5], ["2", 892, -13, 21], ["leaf", 891, 9, 21], ["m", 930, 0, 29.5], ["\u22122", 955, -11, 21], [")", 978, 0, 29.5]]);
    legendTitle(1169, [["BF", 794, 0, 29.5], ["fire", 832, 7, 21], ["(", 866, 0, 29.5], ["yr", 877, 0, 29.5], ["\u22121", 902, -11, 21], [")", 925, 0, 29.5]]);

    function drawScatter(o) {
      var x = d3.scaleLinear().domain(o.xAnchor).range(o.xPx);
      var y = d3.scaleLinear().domain(o.yAnchor).range(o.yPx);
      var g = svg.append("g");

      g.append("path")
        .attr("d", d3.line()(o.line.map(function(v) { return [x(v), y(v)]; })))
        .attr("fill", "none").attr("stroke", "#000").attr("stroke-width", 3.2)
        .attr("stroke-dasharray", "16,12");

      var pts = o.points.slice();
      o.zero.forEach(function(v) { pts.push([0, v]); });
      o.rows.forEach(function(r) { r[1].forEach(function(v) { pts.push([v, r[0]]); }); });

      g.selectAll("circle").data(pts).enter().append("circle")
        .attr("cx", function(d) { return x(d[0]); })
        .attr("cy", function(d) { return y(d[1]); })
        .attr("r", 3.9).attr("fill", "#000");

      var xAxis = d3.axisBottom(x).tickValues(o.xTicks).tickSize(-10).tickPadding(18)
        .tickFormat(function(d, i) { return o.xLabels ? o.xLabels[i] : d; });
      var yAxis = d3.axisLeft(y).tickValues(o.yTicks).tickSize(-10).tickPadding(17)
        .tickFormat(function(d, i) { return o.yLabels ? o.yLabels[i] : d; });

      var gx = g.append("g").attr("transform", "translate(0," + o.frame[3] + ")").call(xAxis);
      var gy = g.append("g").attr("transform", "translate(" + o.frame[0] + ",0)").call(yAxis);
      [gx, gy].forEach(function(a) {
        a.select(".domain").remove();
        a.selectAll("line").attr("stroke", "#444").attr("stroke-width", 1.2);
        a.selectAll("text").attr("font-size", 30).attr("fill", "#555")
          .style("font-family", "'Liberation Sans', Arial, sans-serif");
      });
      if (o.lastLabelShift) {
        gx.selectAll("text").filter(function(d, i) { return i == o.xTicks.length - 1; }).attr("x", o.lastLabelShift);
      }

      g.append("rect")
        .attr("x", o.frame[0]).attr("y", o.frame[1])
        .attr("width", o.frame[2] - o.frame[0]).attr("height", o.frame[3] - o.frame[1])
        .attr("fill", "none").attr("stroke", "#000").attr("stroke-width", 2.4);

      g.append("text")
        .attr("transform", "translate(" + o.labelX + "," + o.labelY + ") rotate(-90)")
        .attr("text-anchor", "middle").attr("font-size", 29.7).attr("fill", "#222")
        .text("Observation");
    }

    drawScatter({
      xAnchor: [0, 8], xPx: [1120, 1348.3], yAnchor: [2, 8], yPx: [359, 91],
      frame: [1109.3, 56, 1366, 427.7], xTicks: gppTicks, yTicks: gppYTicks,
      line: gppLine, points: gppPoints, rows: gppRows, zero: gppZero, labelX: 1045, labelY: 241.7
    });
    drawScatter({
      xAnchor: [0, 3], xPx: [1098.7, 1309], yAnchor: [0, 4], yPx: [910, 560.7],
      frame: [1087.3, 552.3, 1366, 924], xTicks: laiTicks, yTicks: laiYTicks,
      line: laiLine, points: laiPoints, rows: laiRows, zero: laiZero, labelX: 1023, labelY: 738
    });
    drawScatter({
      xAnchor: [0, 10], xPx: [1104.3, 1354], yAnchor: [0, 75], yPx: [1405, 1108.3],
      frame: [1092.7, 1050, 1366, 1421], xTicks: bfXTicks, yTicks: bfYTicks, xLabels: bfXLabels, yLabels: bfYLabels,
      line: bfLine, points: bfPoints, rows: bfRows, zero: bfZero, labelX: 971, labelY: 1235, lastLabelShift: -11
    });

    svg.append("text").attr("x", 1229).attr("y", 1508.5).attr("text-anchor", "middle")
      .attr("font-size", 29).attr("fill", "#222").text("Model");
  </script>
</body>
